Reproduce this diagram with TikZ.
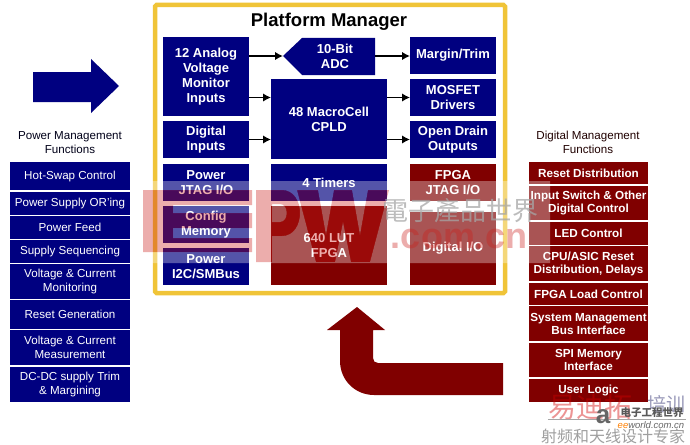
\documentclass[tikz,border=0pt]{standalone}
\usepackage{fontspec}
\setmainfont{Liberation Sans}
\newfontfamily\cjktc{Noto Sans CJK TC}
\newfontfamily\cjksc{Noto Sans CJK SC}
\usetikzlibrary{arrows.meta}
\definecolor{navyblk}{RGB}{0,0,128}
\definecolor{maroonblk}{RGB}{128,0,0}
\definecolor{frameyellow}{RGB}{240,196,56}
\definecolor{epwtint}{RGB}{205,30,25}
\tikzset{
  blk/.style={inner sep=0pt,outer sep=0pt,align=center,text=white,
    font=\bfseries\fontsize{13}{15}\selectfont},
  bluecore/.style={blk,fill=navyblk},
  redcore/.style={blk,fill=maroonblk},
  fnlist/.style={inner sep=0pt,outer sep=0pt,align=center,text=white,
    font=\fontsize{11.6}{14}\selectfont,fill=navyblk},
  reditem/.style={inner sep=0pt,outer sep=0pt,align=center,text=white,
    font=\bfseries\fontsize{11.7}{13}\selectfont,fill=maroonblk},
  heading/.style={align=center,inner sep=0pt,text=black!80!navyblk,
    font=\fontsize{11.6}{13.5}\selectfont},
  conn/.style={line width=1.7pt,-{Latex[length=8pt,width=8.5pt]}},
}
% box given by its left, top, right and bottom edges
\newcommand{\blkbox}[7]{%
  \pgfmathsetmacro{\blkw}{#4-#2}\pgfmathsetmacro{\blkh}{#5-#3}%
  \node[#6,minimum width=\blkw pt,minimum height=\blkh pt] (#1)
    at ({(#2+#4)/2},{(#3+#5)/2}) {#7};}
% outlines of the three big letters of the publisher mark
\newcommand{\epwoutline}{
  (143,190) -- (252,190) -- (252,205) -- (173,205) -- (173,213) -- (252,213)
    -- (252,228) -- (173,228) -- (173,238) -- (252,238) -- (252,252) -- (143,252) -- cycle
  (256,190) -- (282,190) .. controls (306,190) and (306,236) .. (282,236) -- (272,236)
    -- (272,262) -- (256,262) -- cycle
  (272,204) -- (272,222) -- (280,222) .. controls (289,222) and (289,204) .. (280,204) -- cycle
  (297,190) -- (318,190) -- (326,235) -- (334,190) -- (352,190) -- (360,235)
    -- (368,190) -- (389,190) -- (370,262) -- (351,262) -- (343,222) -- (335,262) -- (316,262) -- cycle
}
\begin{document}
\begin{tikzpicture}[x=1pt,y=-1pt]
\useasboundingbox (0,0) rectangle (690,444);
\fill[white] (0,0) rectangle (690,444);

% Platform Manager frame
\draw[frameyellow,line width=4.5pt,rounded corners=1.5pt] (155,5) rectangle (505,293);
\node[inner sep=0pt,font=\bfseries\fontsize{18.5}{20}\selectfont] (title) at (329,21.5) {Platform Manager};

% left column of the frame
\blkbox{analog}{163}{37}{249}{116}{bluecore}{12 Analog\\Voltage\\Monitor\\Inputs}
\blkbox{digital}{163}{121}{249}{158}{bluecore}{Digital\\Inputs}
\blkbox{pjtag}{163}{164}{249}{201}{bluecore}{Power\\JTAG I/O}
\blkbox{config}{163}{206}{249}{243}{bluecore}{Config\\Memory}
\blkbox{pi2c}{163}{248}{249}{285}{bluecore}{Power\\I2C/SMBus}

% middle column
\fill[navyblk] (283,56) coordinate (adctip) -- (302,38) -- (375,38)
  -- (375,75) -- (302,75) -- cycle;
\coordinate (adcout) at (375,56);
\node[blk] (adc) at (335,56) {10-Bit\\ADC};
\blkbox{cpld}{271}{79}{387}{159}{bluecore}{48 MacroCell\\CPLD}
\blkbox{timers}{271}{164}{387}{201}{bluecore}{4 Timers}
\blkbox{fpga}{271}{206}{387}{285}{redcore}{640 LUT\\FPGA}

% right column
\blkbox{margin}{410}{37}{496}{74}{bluecore}{Margin/Trim}
\blkbox{mosfet}{410}{79}{496}{116}{bluecore}{MOSFET\\Drivers}
\blkbox{opendrain}{410}{121}{496}{158}{bluecore}{Open Drain\\Outputs}
\blkbox{fjtag}{410}{164}{496}{201}{redcore}{FPGA\\JTAG I/O}
\blkbox{dio}{410}{212}{496}{285}{redcore}{Digital I/O}

% signal connectors
\draw[conn] (analog.east |- adctip) -- (adctip);
\draw[conn] (adcout) -- (adcout -| margin.west);
\draw[conn] (analog.east |- mosfet) -- (cpld.west |- mosfet);
\draw[conn] (digital.east) -- (digital.east -| cpld.west);
\draw[conn] (cpld.east |- mosfet) -- (mosfet.west);
\draw[conn] (cpld.east |- opendrain) -- (opendrain.west);

% power management list
\node[heading] (pmhead) at (70,142.5) {Power Management\\Functions};
\blkbox{p1}{10}{162}{130}{190}{fnlist}{Hot-Swap Control}
\blkbox{p2}{10}{192}{130}{215}{fnlist}{Power Supply OR’ing}
\blkbox{p3}{10}{216}{130}{239}{fnlist}{Power Feed}
\blkbox{p4}{10}{240}{130}{263}{fnlist}{Supply Sequencing}
\blkbox{p5}{10}{264}{130}{299}{fnlist}{Voltage \& Current\\Monitoring}
\blkbox{p6}{10}{300}{130}{329}{fnlist}{Reset Generation}
\blkbox{p7}{10}{330}{130}{365}{fnlist}{Voltage \& Current\\Measurement}
\blkbox{p8}{10}{367}{130}{402}{fnlist}{DC-DC supply Trim\\\& Margining}

% digital management list
\node[heading,text=black!75!maroonblk] (dmhead) at (588,142.5) {Digital Management\\Functions};
\blkbox{d1}{529}{162}{648}{184}{reditem}{Reset Distribution}
\blkbox{d2}{529}{186}{648}{220}{reditem}{Input Switch \& Other\\Digital Control}
\blkbox{d3}{529}{222}{648}{245}{reditem}{LED Control}
\blkbox{d4}{529}{246}{648}{281}{reditem}{CPU/ASIC Reset\\Distribution, Delays}
\blkbox{d5}{529}{283}{648}{305}{reditem}{FPGA Load Control}
\blkbox{d6}{529}{306}{648}{341}{reditem}{System Management\\Bus Interface}
\blkbox{d7}{529}{343}{648}{377}{reditem}{SPI Memory\\Interface}
\blkbox{d8}{529}{379}{648}{402}{reditem}{User Logic}

% flow arrows
\fill[navyblk] (33,72) -- (91,72) -- (91,59) -- (119,86) -- (91,113) -- (91,102) -- (33,102) -- cycle;
\fill[maroonblk] (357,307) -- (385,330) -- (373,330) -- (373,358)
  .. controls (373,361) and (375,363) .. (378,363) -- (503,363) -- (503,395) -- (374,395)
  .. controls (355,395) and (340,380) .. (340,361) -- (340,330) -- (327,330) -- cycle;

% publisher mark laid over the drawing: a pale band with the letters left out of it
\fill[white,opacity=.33,even odd rule] (143,181) rectangle (550,263) \epwoutline;
\fill[epwtint,opacity=.36] \epwoutline;
\node[inner sep=0pt,text=epwtint,opacity=.36,font=\bfseries\fontsize{36}{36}\selectfont] (dotcom) at (459,239) {.com.cn};
\node[inner sep=0pt,text=gray!70,opacity=.75,font=\cjktc\fontsize{26}{28}\selectfont] (epwcn) at (460,211) {電子產品世界};

% training mark in the lower corner
\node[inner sep=0pt,text=red!65!maroonblk,opacity=.42,font=\cjksc\fontsize{28}{29}\selectfont] (edatop) at (590,407) {易迪拓};
\node[inner sep=0pt,text=navyblk!45!gray,opacity=.55,font=\cjksc\fontsize{19}{20}\selectfont] (train) at (666,404) {培训};
\draw[gray!70,line width=1pt] (edatop.south west |- 0,419) -- (686,419);
\node[inner sep=0pt,text=gray!75,font=\cjksc\fontsize{16}{17}\selectfont] (slogan) at (613,436) {射频和天线设计专家};
\node[inner sep=0pt,text=gray!80!black,font=\bfseries\fontsize{26}{26}\selectfont] (eelogo) at (603,417) {a};
\node[inner sep=0pt,text=black!65,font=\cjksc\bfseries\fontsize{10.5}{11}\selectfont] (eecn) at (652,413) {电子工程世界};
\node[inner sep=0pt,text=black!60,font=\itshape\fontsize{9.5}{10}\selectfont] (eeweb) at (651,425) {\textcolor{orange}{ee}world.com.cn};
\end{tikzpicture}
\end{document}
